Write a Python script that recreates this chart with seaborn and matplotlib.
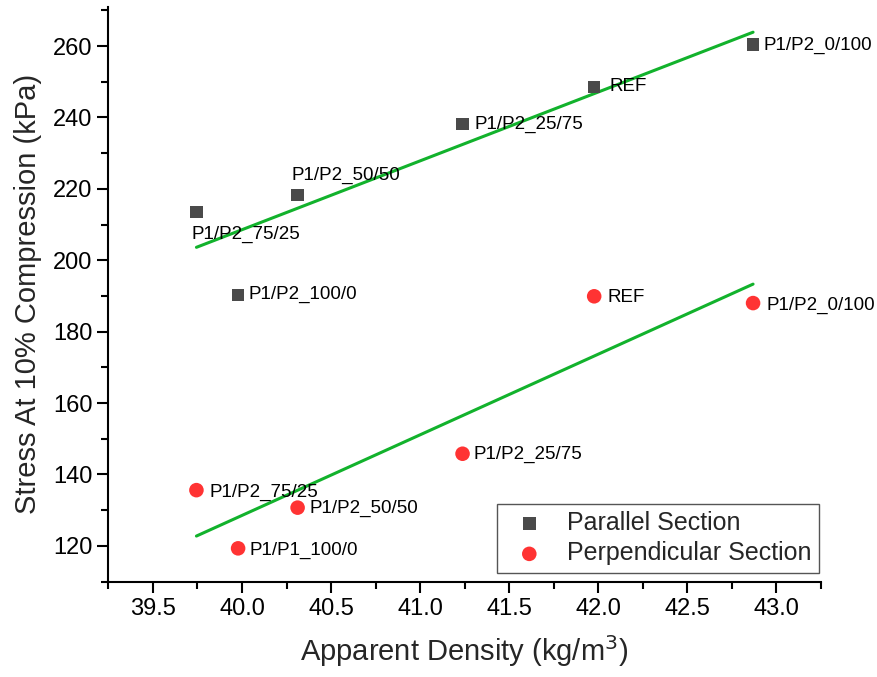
import numpy as np
import pandas as pd
import matplotlib
matplotlib.use("Agg")
import matplotlib.pyplot as plt
import seaborn as sns

# data
density = [39.744, 40.312, 39.978, 41.238, 41.977, 42.869]
stress_parallel = [213.5, 218.3, 190.3, 238.2, 248.6, 260.4]
stress_perpendicular = [135.6, 130.7, 119.3, 145.8, 189.9, 188.0]
labels_parallel = ["P1/P2_75/25", "P1/P2_50/50", "P1/P2_100/0",
                   "P1/P2_25/75", "REF", "P1/P2_0/100"]
labels_perpendicular = ["P1/P2_75/25", "P1/P2_50/50", "P1/P1_100/0",
                        "P1/P2_25/75", "REF", "P1/P2_0/100"]

# label offsets in pixels (dx, dy)
offsets_parallel = [(-5, -22), (-6, 20), (10, 0), (12, -1), (15, 0), (10, -1)]
offsets_perpendicular = [(13, -2), (12, -1), (11, -2), (11, -1), (13, -1), (13, -2)]

sns.set_theme(style="ticks")
plt.rcParams['font.family'] = ['Liberation Sans', 'DejaVu Sans']
plt.rcParams['axes.linewidth'] = 1.5

df_par = pd.DataFrame({"density": density, "stress": stress_parallel})
df_perp = pd.DataFrame({"density": density, "stress": stress_perpendicular})

fig = plt.figure(figsize=(8.78, 6.77), dpi=100)
ax = fig.add_axes([0.1235, 0.141, 0.8115, 0.849])

green = "#12b22c"
sns.regplot(data=df_par, x="density", y="stress", scatter=False, ci=None,
            color=green, line_kws={"lw": 2.2}, ax=ax)
sns.regplot(data=df_perp, x="density", y="stress", scatter=False, ci=None,
            color=green, line_kws={"lw": 2.2}, ax=ax)

sns.scatterplot(data=df_par, x="density", y="stress", marker="s", s=80,
                color="#4a4a4a", edgecolor="none", label="Parallel Section",
                ax=ax, zorder=3)
sns.scatterplot(data=df_perp, x="density", y="stress", marker="o", s=110,
                color="#ff3333", edgecolor="none", label="Perpendicular Section",
                ax=ax, zorder=3)

for x, y, t, (dx, dy) in zip(density, stress_parallel, labels_parallel, offsets_parallel):
    ax.annotate(t, (x, y), xytext=(dx, dy), textcoords="offset pixels",
                ha="left", va="center", fontsize=13.5, color="black")
for x, y, t, (dx, dy) in zip(density, stress_perpendicular, labels_perpendicular, offsets_perpendicular):
    ax.annotate(t, (x, y), xytext=(dx, dy), textcoords="offset pixels",
                ha="left", va="center", fontsize=13.5, color="black")

ax.set_xlim(39.25, 43.25)
ax.set_ylim(110, 271)
ax.set_xticks(np.arange(39.5, 43.01, 0.5))
ax.set_xticks(np.arange(39.25, 43.26, 0.25), minor=True)
ax.set_yticks(np.arange(120, 261, 20))
ax.set_yticks(np.arange(110, 271, 10), minor=True)
ax.set_xticklabels([f"{v:.1f}" for v in np.arange(39.5, 43.01, 0.5)])

ax.tick_params(axis="both", which="major", direction="out", length=8, width=1.5,
               labelsize=17, color="black", labelcolor="black")
ax.tick_params(axis="both", which="minor", direction="out", length=5, width=1.5,
               color="black")

ax.set_xlabel("Apparent Density (kg/m$^3$)", fontsize=21, labelpad=10)
ax.set_ylabel("Stress At 10% Compression (kPa)", fontsize=21, labelpad=8)

sns.despine(ax=ax)
for s in ["left", "bottom"]:
    ax.spines[s].set_color("black")

leg = ax.legend(loc="lower right", bbox_to_anchor=(0.997, 0.015), borderaxespad=0,
                fontsize=18, frameon=True, fancybox=False, edgecolor="#555555",
                handlelength=2.0, handletextpad=0.5, borderpad=0.3,
                labelspacing=0.25, framealpha=1)
leg.get_frame().set_linewidth(1.0)

fig.savefig("out.png", dpi=100)
